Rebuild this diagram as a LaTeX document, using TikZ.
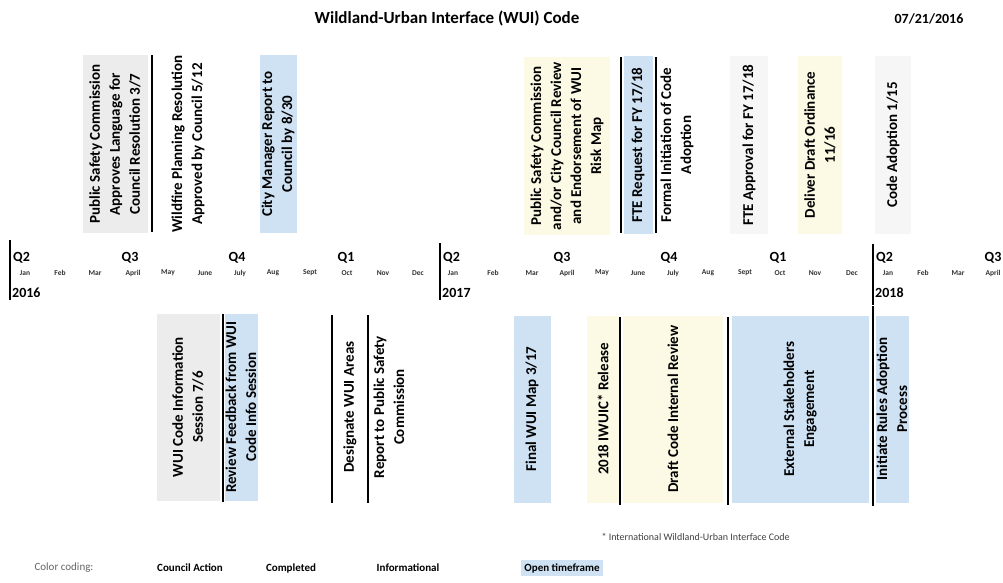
\documentclass[tikz,border=0pt]{standalone}
\usepackage{fontspec}
\setmainfont{Carlito}
\definecolor{boxblue}{HTML}{CFE2F3}
\definecolor{boxgray}{HTML}{ECECEC}
\definecolor{boxyellow}{HTML}{FCFAE4}
\definecolor{boxfaint}{HTML}{F6F6F6}
\begin{document}
\begin{tikzpicture}[x=1pt,y=-1pt,
  item/.style={rotate=90, align=center, inner sep=0pt,
    font=\fontsize{15}{20}\selectfont\bfseries},
  topitem/.style={item, minimum width=178pt, minimum height=#1},
  botitem/.style={item, minimum width=187pt, minimum height=#1},
  council/.style={line width=2.2pt, black},
  yearline/.style={line width=2.8pt, black},
  quarter/.style={font=\fontsize{14}{14}\selectfont\bfseries, inner sep=0pt},
  yearlab/.style={font=\fontsize{14}{14}\selectfont\bfseries, inner sep=0pt, anchor=west},
  month/.style={font=\fontsize{7.5}{8}\selectfont\bfseries, text=black!80, inner sep=0pt},
  legend/.style={font=\fontsize{11}{12}\selectfont\bfseries, inner sep=3pt}
]
\useasboundingbox[fill=white] (0,0) rectangle (1003,582);

% title
\node[font=\fontsize{17}{17}\selectfont\bfseries] (title) at (447,18) {Wildland-Urban Interface (WUI) Code};
\node[font=\fontsize{14}{14}\selectfont\bfseries] (date) at (929,19) {07/21/2016};

% ---------- timeline ----------
\draw[yearline] (10,240) coordinate (y16t) -- (10,300) coordinate (y16b);
\draw[yearline] (440,243) coordinate (y17t) -- (440,300) coordinate (y17b);
\draw[yearline] (873,244) coordinate (y18t) -- (873,305) coordinate (y18b);

\node[quarter, anchor=west] (q216) at (13,258) {Q2};
\node[quarter] (q316) at (130,258) {Q3};
\node[quarter] (q416) at (237,258) {Q4};
\node[quarter] (q116) at (346,258) {Q1};
\node[quarter, anchor=west] (q217) at (443,258) {Q2};
\node[quarter] (q317) at (562,258) {Q3};
\node[quarter] (q417) at (669,258) {Q4};
\node[quarter] (q117) at (778,258) {Q1};
\node[quarter, anchor=west] (q218) at (876,258) {Q2};
\node[quarter] (q318) at (993,258) {Q3};

\foreach \x/\m [count=\i] in {25/Jan,60/Feb,95/Mar,133/April,168/May,205/June,240/July,273/Aug,310/Sept,347/Oct,383/Nov,418/Dec}
  \node[month] (m16-\i) at (\x,273) {\m};
\foreach \x/\m [count=\i] in {453/Jan,493/Feb,532/Mar,567/April,602/May,638/June,673/July,708/Aug,745/Sept,780/Oct,815/Nov,852/Dec}
  \node[month] (m17-\i) at (\x,273) {\m};
\foreach \x/\m [count=\i] in {888/Jan,923/Feb,958/Mar,993/April}
  \node[month] (m18-\i) at (\x,273) {\m};

\node[yearlab] (yr16) at (12,293) {2016};
\node[yearlab] (yr17) at (442,293) {2017};
\node[yearlab] (yr18) at (875,293) {2018};

% ---------- top items ----------
\node[topitem=65pt, fill=boxgray] (t1) at (115,144) {Public Safety Commission\\Approves Language for\\Council Resolution 3/7};
\draw[council] (152,55) -- (152,232);
\node[topitem=40pt] (t2) at (188,144) {Wildfire Planning Resolution\\Approved by Council 5/12};
\node[topitem=37pt, fill=boxblue] (t3) at (278,144) {City Manager Report to\\Council by 8/30};
\node[topitem=86pt, fill=boxyellow] (t4) at (567,146) {Public Safety Commission\\and/or City Council Review\\and Endorsement of WUI\\Risk Map};
\draw[council] (621,57) -- (621,233);
\node[topitem=29pt, fill=boxblue] (t5) at (638,145) {FTE Request for FY 17/18};
\draw[council] (656,57) -- (656,233);
\node[topitem=44pt] (t6) at (677,145) {Formal Initiation of Code\\Adoption};
\node[topitem=38pt, fill=boxfaint] (t7) at (749,145) {FTE Approval for FY 17/18};
\node[topitem=44pt, fill=boxyellow] (t8) at (820,145) {Deliver Draft Ordinance\\11/16};
\node[topitem=36pt, fill=boxfaint] (t9) at (893,145) {Code Adoption 1/15};

% ---------- bottom items ----------
\node[botitem=63pt, fill=boxgray] (b1) at (188,407) {WUI Code Information\\Session 7/6};
\draw[council] (223,314) -- (223,502);
\node[botitem=33pt, fill=boxblue] (b2) at (241,407) {Review Feedback from WUI\\Code Info Session};
\draw[council] (332,315) -- (332,503);
\node[botitem=30pt] (b3) at (350,407) {Designate WUI Areas};
\draw[council] (368,315) -- (368,503);
\node[botitem=40pt] (b4) at (389,407) {Report to Public Safety\\Commission};
\node[botitem=37pt, fill=boxblue] (b5) at (532,409) {Final WUI Map 3/17};
\node[botitem=33pt, fill=boxyellow] (b6) at (603,409) {2018 IWUIC* Release};
\draw[council] (620,317) -- (620,505);
\node[botitem=100pt, fill=boxyellow] (b7) at (673,409) {Draft Code Internal Review};
\draw[council] (728,317) -- (728,505);
\node[botitem=137pt, fill=boxblue] (b8) at (800,409) {External Stakeholders\\Engagement};
\draw[council] (873,306) -- (873,506);
\node[botitem=33pt, fill=boxblue] (b9) at (892,409) {Initiate Rules Adoption\\Process};

% ---------- footnote & legend ----------
\node[font=\fontsize{10}{12}\selectfont, text=black!75, anchor=west] (foot) at (598,537) {* International Wildland-Urban Interface Code};

\node[font=\fontsize{11}{12}\selectfont, text=black!60] (lg0) at (64,568) {Color coding:};
\node[legend] (lg1) at (190,568) {Council Action};
\node[legend] (lg2) at (291,568) {Completed};
\node[legend] (lg3) at (408,568) {Informational};
\node[legend, fill=boxblue] (lg4) at (562,568) {Open timeframe};
\end{tikzpicture}
\end{document}
